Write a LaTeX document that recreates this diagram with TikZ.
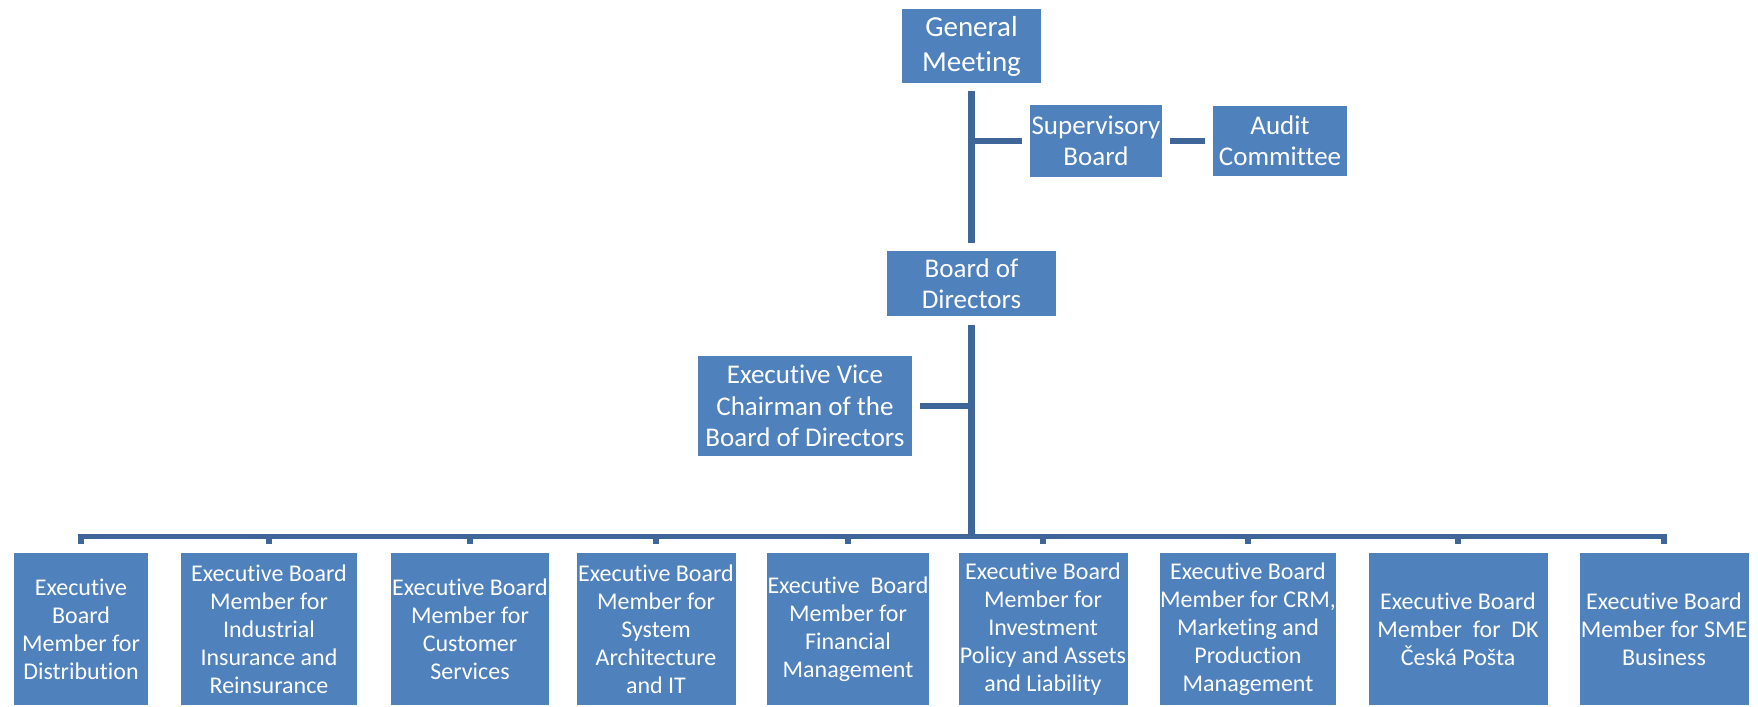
\documentclass[tikz,border=0pt]{standalone}
\usepackage{fontspec}
\setmainfont{Carlito}[Ligatures=NoCommon]
\definecolor{boxblue}{HTML}{4F81BD}
\definecolor{lineblue}{HTML}{3E6699}
\tikzset{
  orgbox/.style={fill=boxblue, text=white, inner sep=0pt, align=center},
  topline/.style={draw=lineblue, line width=3.25pt},
  busline/.style={draw=lineblue, line width=2.75pt, line join=miter},
}
\begin{document}
\begin{tikzpicture}[x=0.5pt,y=-0.5pt]
      \useasboundingbox (0,0) rectangle (1758,707);

      \node[orgbox, minimum width=69.5pt, minimum height=37pt,
            font=\fontsize{14.5}{17.5}\selectfont] (gm) at (971.5,46) {General\\Meeting};
      \node[orgbox, minimum width=66pt, minimum height=36pt,
            font=\fontsize{13.5}{15.5}\selectfont] (sup) at (1096,141) {Supervisory\\Board};
      \node[orgbox, minimum width=67pt, minimum height=35pt,
            font=\fontsize{13.5}{15.5}\selectfont] (audit) at (1280,141) {Audit\\Committee};
      \node[orgbox, minimum width=84.5pt, minimum height=32.5pt,
            font=\fontsize{13.5}{15.5}\selectfont] (bod) at (971.5,283.5) {Board of\\Directors};
      \node[orgbox, minimum width=107pt, minimum height=50pt,
            font=\fontsize{13.5}{15.8}\selectfont] (evc) at (805,406)
            {Executive Vice\\Chairman of the\\Board of Directors};

      \foreach \n/\cx/\w/\txt in {
          1/81/134/{Executive\\Board\\Member for\\Distribution},
          2/269/176/{Executive Board\\Member for\\Industrial\\Insurance and\\Reinsurance},
          3/470/158/{Executive Board\\Member for\\Customer\\Services},
          4/656/159/{Executive Board\\Member for\\System\\Architecture\\and IT},
          5/848/162/{Executive~ Board\\Member for\\Financial\\Management},
          6/1043/169/{Executive Board\\Member for\\Investment\\Policy and Assets\\and Liability},
          7/1248/175/{Executive Board\\Member for CRM,\\Marketing and\\Production\\Management},
          8/1458/179/{Executive Board\\Member~ for~ DK\\Česká Pošta},
          9/1664/169/{Executive Board\\Member for SME\\Business}} {
          \node[orgbox, minimum width=\w*0.5pt, minimum height=76pt,
                font=\fontsize{12}{14}\selectfont] (b\n) at (\cx,629) {\txt};
        }

      \coordinate (bus) at (971.5,536.5);

      \draw[topline, shorten <=4pt, shorten >=4pt] (gm) -- (bod);
      \draw[topline, shorten >=4pt] (gm.south |- sup.west) -- (sup.west);
      \draw[topline, shorten <=4pt, shorten >=4pt] (sup) -- (audit);
      \draw[topline, shorten <=4.5pt] (bod) -- (bod |- bus);
      \draw[topline, shorten <=4pt] (evc.east) -- (evc.east -| bod.south);

      \draw[busline, shorten <=4.5pt, shorten >=4.5pt] (b1.north) |- (bus) -| (b9.north);
      \foreach \n in {2,...,8} {
          \draw[busline, shorten >=4.5pt] (b\n.north |- bus) -- (b\n.north);
        }
\end{tikzpicture}
\end{document}
